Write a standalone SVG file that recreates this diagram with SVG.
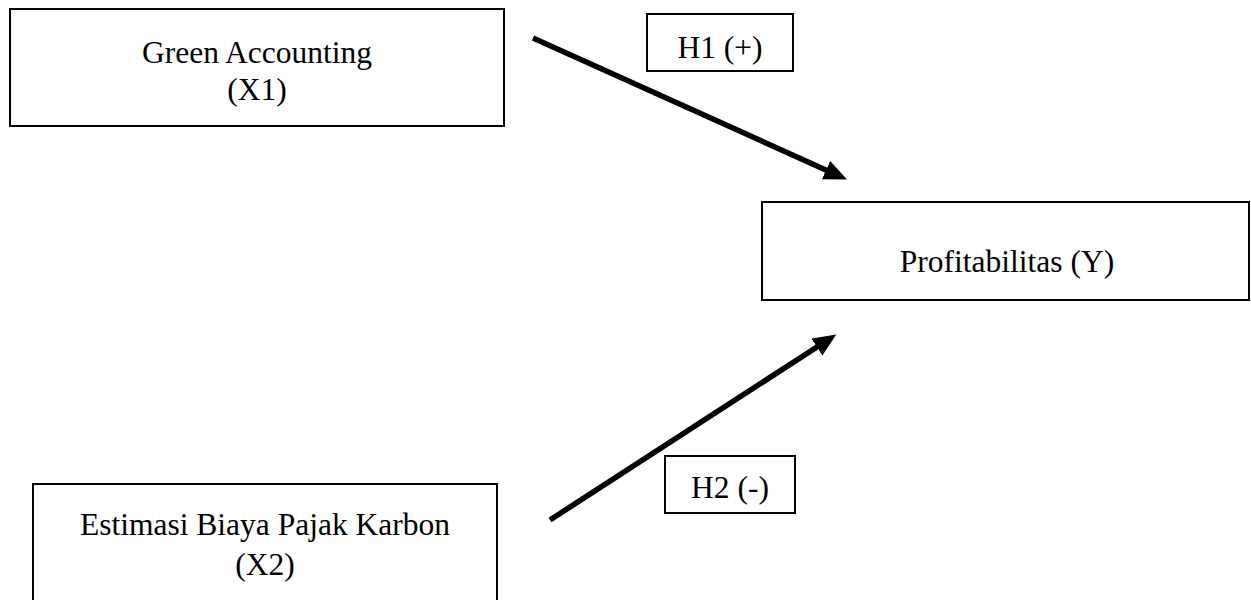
<svg xmlns="http://www.w3.org/2000/svg" width="1251" height="600" viewBox="0 0 1251 600">
<style>
.box{fill:#fff;stroke:#000;stroke-width:2}
.t{font-family:"Liberation Serif","Times New Roman",serif;font-size:31.5px;fill:#000;text-anchor:middle}
.conn{stroke:#000;stroke-width:5.5;fill:none}
</style>
<defs>
<marker id="ah" markerUnits="userSpaceOnUse" markerWidth="26" markerHeight="22" refX="12" refY="10" orient="auto">
<path d="M0,0 L23,10 L0,20 z" fill="#000"/>
</marker>
</defs>
<rect width="1251" height="600" fill="#fff"/>
<g id="connectors">
<line class="conn" x1="533" y1="38" x2="837" y2="175" marker-end="url(#ah)"/>
<line class="conn" x1="550" y1="520" x2="827" y2="340.5" marker-end="url(#ah)"/>
</g>
<g id="x1">
<rect class="box" x="10" y="9" width="494" height="117"/>
<text class="t" x="257" y="63">Green Accounting</text>
<text class="t" x="257" y="100">(X1)</text>
</g>
<g id="h1">
<rect class="box" x="647" y="14" width="146" height="57"/>
<text class="t" x="720" y="58">H1 (+)</text>
</g>
<g id="y">
<rect class="box" x="762" y="202" width="487" height="98"/>
<text class="t" x="1007" y="272">Profitabilitas (Y)</text>
</g>
<g id="h2">
<rect class="box" x="665" y="456" width="130" height="57"/>
<text class="t" x="730" y="498">H2 (-)</text>
</g>
<g id="x2">
<rect class="box" x="33" y="484" width="464" height="117"/>
<text class="t" x="265" y="535">Estimasi Biaya Pajak Karbon</text>
<text class="t" x="265" y="575">(X2)</text>
</g>
</svg>
